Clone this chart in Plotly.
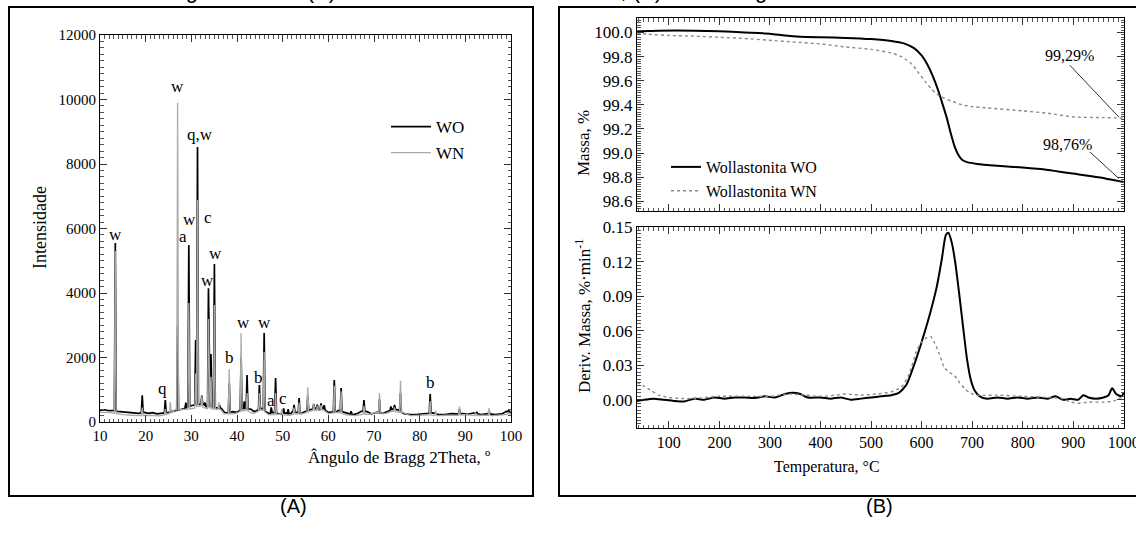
import numpy as np
import plotly.graph_objects as go

W, H = 1136, 534
SERIF = "Liberation Serif, Times New Roman, serif"
SANS = "Liberation Sans, Arial, sans-serif"

# ---------------- XRD patterns (2theta in degrees, intensity in counts) ----------------
wo_base_x = [10, 11, 12, 12.8, 13.8, 14.5, 15.5, 16.5, 17.5, 18.5, 19.8, 20.5, 21.5, 22.5, 23.5,
             25, 26, 27.5, 28.5, 30.2, 32.6, 33.2, 36.6, 37.2, 38, 39, 40, 41.3, 43, 43.8, 45.4,
             47, 48, 49.5, 50.6, 51.6, 52.1, 53, 54, 55, 56, 57.2, 58, 58.8, 60, 61.8, 62.2,
             63.5, 64.5, 65.5, 66.5, 67.2, 68.5, 69.5, 70.5, 72, 73, 74.1, 75.2, 76.5, 78, 79.5,
             81, 83, 84, 85.5, 87, 88, 89.5, 90.5, 92, 93.5, 95, 96.5, 98, 99, 100]
wo_base_y = [360, 380, 350, 370, 330, 320, 300, 290, 280, 270, 300, 270, 290, 250, 270,
             300, 340, 380, 420, 520, 560, 480, 420, 300, 280, 320, 300, 420, 400, 320, 420,
             260, 300, 240, 280, 230, 320, 300, 260, 330, 380, 420, 380, 420, 300, 320, 360,
             300, 250, 230, 270, 330, 320, 250, 300, 270, 320, 400, 380, 260, 230, 240,
             260, 280, 240, 230, 260, 250, 260, 240, 280, 230, 260, 230, 250, 330, 300]
wo_peak_pos = [13.35, 19.25, 24.3, 27.0, 28.8, 29.45, 30.95, 31.35, 32.3, 33.0, 33.75, 34.3,
               35.05, 36.2, 38.3, 40.9, 41.6, 42.2, 44.9, 45.95, 47.5, 48.45, 50.2, 51.2,
               52.5, 53.6, 55.5, 56.8, 57.6, 58.4, 59.1, 61.3, 62.8, 65.0, 67.8, 71.2, 73.7,
               74.5, 75.8, 82.3, 88.7, 92.5, 95.2, 99.5]
wo_peak_int = [5550, 830, 680, 3000, 600, 5490, 2540, 8530, 820, 600, 4150, 2110,
               4900, 520, 1200, 2000, 640, 1460, 1150, 2760, 450, 1360, 420, 400,
               530, 740, 820, 560, 540, 580, 520, 1300, 1050, 330, 680, 700, 480,
               530, 900, 870, 400, 300, 330, 370]

wn_base_x = [10, 12, 13.8, 15, 17, 19, 21, 23, 24.6, 25.8, 26.4, 28.2, 30.5, 32.0, 33.2, 36.5,
             37.2, 39.5, 41.8, 43.5, 45.4, 47, 49.4, 51, 53, 54.5, 56.4, 58.8, 60, 62.2, 64,
             66, 67.4, 69, 70.5, 72.5, 74.0, 76.5, 78, 80, 82, 84, 86, 88, 90, 92, 94, 96,
             98, 100]
wn_base_y = [300, 300, 250, 230, 210, 200, 210, 190, 230, 300, 380, 380, 420, 500, 420, 380,
             250, 260, 380, 260, 380, 220, 240, 210, 250, 260, 350, 380, 260, 300, 220,
             200, 240, 240, 300, 260, 340, 280, 200, 210, 220, 200, 210, 200, 230, 200, 210,
             200, 220, 250]
wn_peak_pos = [13.35, 19.25, 24.3, 25.4, 27.0, 29.45, 30.95, 31.35, 32.3, 33.75, 34.3, 35.05,
               36.0, 38.3, 40.9, 42.2, 44.9, 45.95, 48.45, 49.8, 52.5, 53.6, 55.5, 56.8,
               57.6, 58.4, 61.3, 62.8, 67.8, 71.2, 74.5, 75.8, 82.3, 83.5, 88.7, 92.2,
               95.2, 99.5]
wn_peak_int = [5300, 450, 400, 620, 9900, 3690, 1500, 6880, 800, 3190, 1400, 3630,
               620, 1640, 2760, 900, 900, 2170, 900, 400, 450, 600, 1080, 560,
               500, 520, 1120, 950, 500, 900, 450, 1280, 650, 350, 475, 300,
               430, 300]

# Phase labels placed above the reflections
lbl_text = ["w", "q", "w", "a", "w", "q,w", "c", "w", "w", "b", "w", "b", "w", "a", "c", "b"]
lbl_pos = [13.5, 23.6, 26.9, 28.2, 29.5, 31.9, 33.7, 33.5, 35.2, 38.3, 41.4, 44.6, 46.0, 47.5, 50.1, 82.4]
lbl_int = [5800, 1050, 10390, 5740, 6290, 8900, 6330, 4400, 5240, 2015, 3070, 1365, 3100, 680, 740, 1210]

# ---------------- Thermal analysis (temperature in degC) ----------------
tg_wo_t = [37, 80, 150, 200, 250, 300, 330, 360, 400, 450, 500, 540, 565, 585, 600, 612, 622,
           632, 642, 650, 658, 665, 672, 680, 690, 710, 750, 800, 850, 900, 950, 1000]
tg_wo_m = [100.01, 100.015, 100.015, 100.01, 100.0, 99.99, 99.975, 99.965, 99.96, 99.955,
           99.945, 99.93, 99.91, 99.87, 99.81, 99.73, 99.64, 99.53, 99.40, 99.29, 99.16,
           99.06, 98.99, 98.945, 98.925, 98.91, 98.895, 98.88, 98.86, 98.83, 98.80, 98.76]
tg_wn_t = [37, 60, 100, 150, 200, 250, 300, 350, 400, 450, 500, 540, 560, 580, 595, 610, 620,
           630, 645, 660, 680, 700, 730, 800, 850, 900, 950, 1000]
tg_wn_m = [99.995, 99.985, 99.975, 99.97, 99.96, 99.95, 99.935, 99.92, 99.905, 99.88, 99.86,
           99.83, 99.80, 99.74, 99.66, 99.58, 99.53, 99.49, 99.455, 99.43, 99.40, 99.385,
           99.375, 99.35, 99.33, 99.30, 99.295, 99.29]

dtg_wo_t = [37, 50, 70, 90, 110, 130, 150, 170, 190, 210, 230, 250, 270, 290, 310, 330, 345,
            360, 375, 400, 420, 440, 460, 480, 500, 520, 540, 555, 570, 585, 600, 615, 630,
            640, 648, 653, 660, 667, 675, 683, 690, 697, 705, 715, 730, 750, 770, 790, 810,
            830, 850, 865, 880, 895, 910, 920, 930, 945, 960, 970, 977, 985, 995, 1000]
dtg_wo_v = [-0.001, 0.0, 0.001, 0.0, -0.001, -0.0015, 0.001, 0.0, 0.002, 0.001, 0.002, 0.002,
            0.0015, 0.003, 0.002, 0.005, 0.006, 0.005, 0.002, 0.002, 0.001, 0.002, 0.0, 0.001,
            0.002, 0.003, 0.004, 0.006, 0.013, 0.030, 0.050, 0.072, 0.098, 0.122, 0.143, 0.145,
            0.136, 0.118, 0.090, 0.060, 0.035, 0.018, 0.008, 0.003, 0.001, 0.002, 0.001, 0.002,
            0.001, 0.002, 0.001, 0.003, 0.0, 0.001, 0.0, 0.004, 0.002, 0.001, 0.002, 0.004,
            0.010, 0.005, 0.003, 0.006]
dtg_wn_t = [37, 50, 65, 80, 100, 130, 160, 200, 250, 300, 340, 370, 400, 430, 450, 480, 510,
            540, 560, 575, 590, 600, 610, 618, 625, 635, 645, 655, 665, 675, 685, 695, 710,
            750, 800, 850, 880, 895, 910, 930, 960, 980, 1000]
dtg_wn_v = [0.015, 0.012, 0.008, 0.004, 0.002, 0.001, 0.0015, 0.003, 0.003, 0.003, 0.005,
            0.004, 0.003, 0.004, 0.005, 0.004, 0.005, 0.007, 0.011, 0.022, 0.042, 0.050,
            0.054, 0.055, 0.050, 0.040, 0.028, 0.024, 0.021, 0.015, 0.010, 0.006, 0.004,
            0.004, 0.003, 0.002, 0.001, -0.002, -0.003, -0.002, -0.002, -0.001, 0.003]


def pattern(base_x, base_y, peak_pos, peak_int, half=0.2):
    """Baseline polyline with a narrow triangular reflection at each peak."""
    bx = np.asarray(base_x, float)
    by = np.asarray(base_y, float)
    keep = np.ones(len(bx), bool)
    for p in peak_pos:
        keep &= np.abs(bx - p) > half
    pts = list(zip(bx[keep], by[keep]))
    for p, h in zip(peak_pos, peak_int):
        pts.append((p - half, float(np.interp(p - half, bx, by))))
        pts.append((p, h))
        pts.append((p + half, float(np.interp(p + half, bx, by))))
    pts.sort(key=lambda t: t[0])
    return [t[0] for t in pts], [t[1] for t in pts]


def px_x(px):
    return px / W


def px_y(py):
    return 1 - py / H


fig = go.Figure()

wo_x, wo_y = pattern(wo_base_x, wo_base_y, wo_peak_pos, wo_peak_int)
wn_x, wn_y = pattern(wn_base_x, wn_base_y, wn_peak_pos, wn_peak_int)

fig.add_trace(go.Scatter(x=wo_x, y=wo_y, mode="lines", name="WO",
                         line=dict(color="black", width=1.7),
                         xaxis="x", yaxis="y", legend="legend", legendgroup="a1"))
fig.add_trace(go.Scatter(x=wn_x, y=wn_y, mode="lines", name="WN",
                         line=dict(color="#aaaaaa", width=1.3),
                         xaxis="x", yaxis="y", legend="legend", legendgroup="a2"))

fig.add_trace(go.Scatter(x=tg_wo_t, y=tg_wo_m, mode="lines", name="Wollastonita WO",
                         line=dict(color="black", width=2, shape="spline", smoothing=0.6),
                         xaxis="x2", yaxis="y2", legend="legend2", legendgroup="b1"))
fig.add_trace(go.Scatter(x=tg_wn_t, y=tg_wn_m, mode="lines", name="Wollastonita WN",
                         line=dict(color="#8a8a8a", width=1.4, dash="dot", shape="spline", smoothing=0.6),
                         xaxis="x2", yaxis="y2", legend="legend2", legendgroup="b2"))
fig.add_trace(go.Scatter(x=dtg_wo_t, y=dtg_wo_v, mode="lines", showlegend=False,
                         line=dict(color="black", width=2, shape="spline", smoothing=0.6),
                         xaxis="x3", yaxis="y3"))
fig.add_trace(go.Scatter(x=dtg_wn_t, y=dtg_wn_v, mode="lines", showlegend=False,
                         line=dict(color="#8a8a8a", width=1.4, dash="dot", shape="spline", smoothing=0.6),
                         xaxis="x3", yaxis="y3"))


def ax(size=15, **kw):
    d = dict(showline=True, linecolor="black", linewidth=1, mirror="ticks",
             ticks="inside", ticklen=7, tickcolor="#333", tickwidth=1,
             showgrid=False, zeroline=False, automargin=False,
             tickfont=dict(family=SERIF, size=size, color="black"))
    d.update(kw)
    return d


fig.update_layout(
    template="none",
    width=W, height=H,
    margin=dict(l=0, r=0, t=0, b=0, pad=0),
    paper_bgcolor="white", plot_bgcolor="white",
    xaxis=ax(domain=[px_x(100), px_x(511)], range=[10, 100], dtick=10, tick0=0,
             minor=dict(ticks="inside", ticklen=3.5, tickcolor="#555", dtick=1)),
    yaxis=ax(domain=[px_y(422), px_y(35)], range=[0, 12000], dtick=2000, tickformat="d",
             minor=dict(ticks="inside", ticklen=3.5, tickcolor="#555", dtick=200)),
    xaxis2=ax(domain=[px_x(637), px_x(1124)], range=[37, 1000.5], dtick=100, tick0=0,
              showticklabels=False, anchor="y2", matches="x3",
              minor=dict(ticks="inside", ticklen=3.5, tickcolor="#555", dtick=10)),
    yaxis2=ax(size=17, domain=[px_y(211), px_y(18)], range=[98.52, 100.12], dtick=0.2,
              tick0=0, tickformat=".1f", anchor="x2",
              minor=dict(ticks="inside", ticklen=3.5, tickcolor="#555", dtick=0.02)),
    xaxis3=ax(size=16, domain=[px_x(637), px_x(1124)], range=[37, 1000.5], dtick=100, tick0=0,
              anchor="y3", ticklabeloverflow="allow",
              minor=dict(ticks="inside", ticklen=3.5, tickcolor="#555", dtick=10)),
    yaxis3=ax(size=17, domain=[px_y(428), px_y(227)], range=[-0.0245, 0.150], dtick=0.03,
              tick0=0, tickformat=".2f", anchor="x3",
              minor=dict(ticks="inside", ticklen=3.5, tickcolor="#555", dtick=0.003)),
    legend=dict(x=px_x(386), y=px_y(109), xanchor="left", yanchor="top",
                font=dict(family=SERIF, size=17, color="black"), bgcolor="rgba(0,0,0,0)",
                traceorder="grouped", tracegroupgap=1, itemwidth=40),
    legend2=dict(x=px_x(666), y=px_y(150), xanchor="left", yanchor="top",
                 font=dict(family=SERIF, size=16, color="black"), bgcolor="rgba(0,0,0,0)",
                 traceorder="grouped", tracegroupgap=0),
)

annotations = []
for t, x, y in zip(lbl_text, lbl_pos, lbl_int):
    annotations.append(dict(x=x, y=y, xref="x", yref="y", text=t, showarrow=False,
                            font=dict(family=SERIF, size=17, color="black")))

# axis titles
annotations += [
    dict(x=px_x(28), y=px_y(228), xref="paper", yref="paper", text="Intensidade",
         textangle=-90, showarrow=False, font=dict(family=SERIF, size=18, color="black")),
    dict(x=px_x(306), y=px_y(469), xref="paper", yref="paper", text="Ângulo de Bragg 2Theta, º",
         showarrow=False, font=dict(family=SERIF, size=17, color="black")),
    dict(x=px_x(583), y=px_y(108), xref="paper", yref="paper", text="Massa, %",
         textangle=-90, showarrow=False, font=dict(family=SERIF, size=17, color="black")),
    dict(x=px_x(583), y=px_y(316), xref="paper", yref="paper",
         text="Deriv. Massa, %·min<sup>-1</sup>",
         textangle=-90, showarrow=False, font=dict(family=SERIF, size=17, color="black")),
    dict(x=px_x(882), y=px_y(478), xref="paper", yref="paper", text="Temperatura, °C",
         showarrow=False, font=dict(family=SERIF, size=16, color="black")),
    # residual-mass callouts
    dict(x=893, y=99.81, xref="x2", yref="y2", text="99,29%", showarrow=False,
         font=dict(family=SERIF, size=16, color="black")),
    dict(x=888, y=99.07, xref="x2", yref="y2", text="98,76%", showarrow=False,
         font=dict(family=SERIF, size=16, color="black")),
    # panel letters
    dict(x=px_x(278), y=px_y(519), xref="paper", yref="paper", text="(A)", showarrow=False,
         font=dict(family=SANS, size=20, color="black")),
    dict(x=px_x(895), y=px_y(519), xref="paper", yref="paper", text="(B)", showarrow=False,
         font=dict(family=SANS, size=20, color="black")),
    # figure caption running along the top edge
    dict(x=px_x(338), y=1, xref="paper", yref="paper", xanchor="right", yanchor="bottom",
         yshift=-5, text="Difratograma DRX (A)", showarrow=False,
         font=dict(family=SANS, size=22, color="black")),
    dict(x=px_x(345), y=1, xref="paper", yref="paper", xanchor="left", yanchor="bottom",
         yshift=-5, text="e análise térmica TG e DTG, (B) da termogravimetria", showarrow=False,
         font=dict(family=SANS, size=22, color="black")),
]
fig.update_layout(annotations=annotations)

shapes = [
    # panel frames
    dict(type="rect", xref="paper", yref="paper", x0=px_x(9), x1=px_x(533),
         y0=px_y(496), y1=px_y(7), line=dict(color="black", width=2)),
    dict(type="rect", xref="paper", yref="paper", x0=px_x(559), x1=1.02,
         y0=px_y(496), y1=px_y(7), line=dict(color="black", width=2)),
    # callout leaders
    dict(type="line", xref="x2", yref="y2", x0=893, y0=99.73, x1=990, y1=99.30,
         line=dict(color="#333", width=1)),
    dict(type="line", xref="x2", yref="y2", x0=933, y0=99.01, x1=990, y1=98.79,
         line=dict(color="#333", width=1)),
]
fig.update_layout(shapes=shapes)

fig.write_html("out.html")
